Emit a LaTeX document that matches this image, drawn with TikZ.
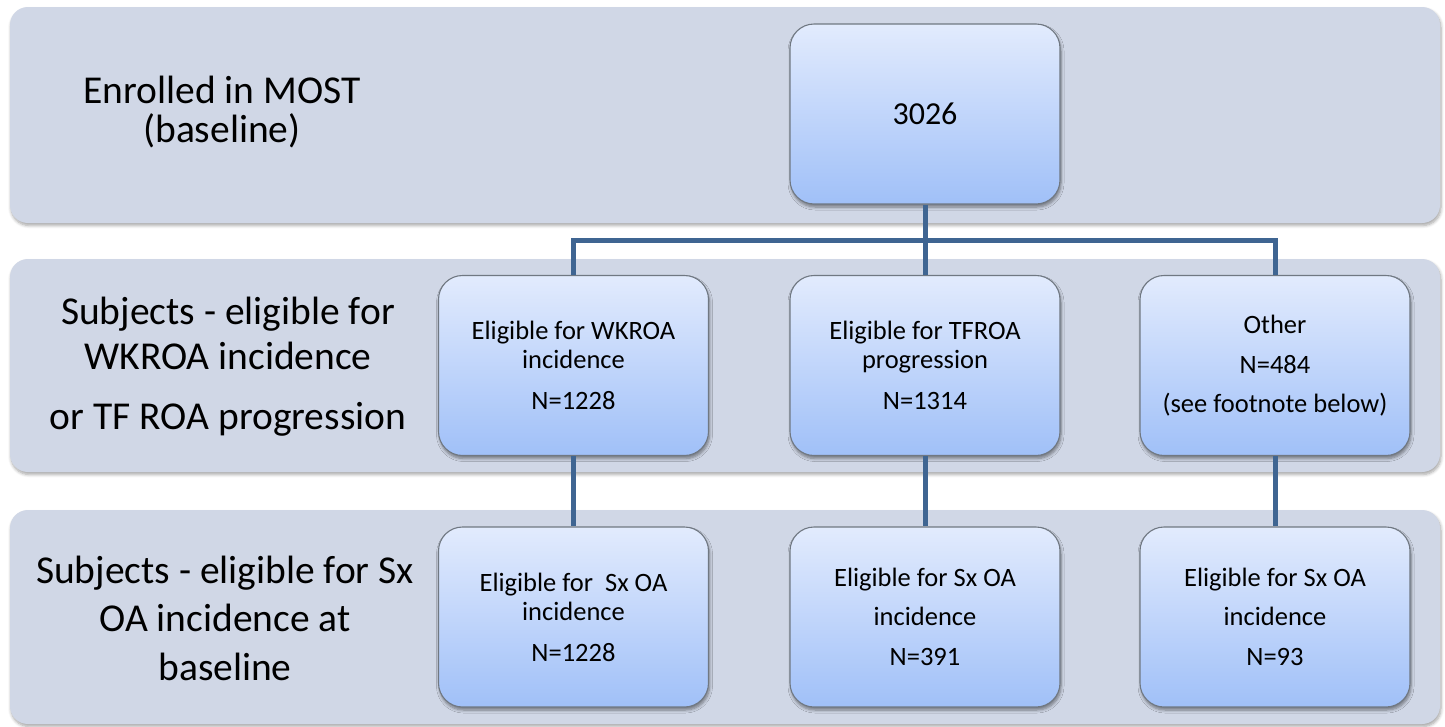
\documentclass[tikz,border=0pt]{standalone}
\usepackage{fontspec}
\setmainfont{Carlito}
\usetikzlibrary{shadows.blur}

\definecolor{bandfill}{RGB}{208,215,230}
\definecolor{boxtop}{RGB}{226,235,253}
\definecolor{boxbot}{RGB}{160,192,248}
\definecolor{boxedge}{RGB}{112,120,130}
\definecolor{linkblue}{RGB}{63,101,146}

\newcommand\fbig{\fontsize{39.5}{39}\selectfont}
\newcommand\fsmall{\fontsize{26.5}{29}\selectfont}
\newcommand\fnum{\fontsize{32}{36}\selectfont}

\tikzset{
  band/.style={fill=bandfill, rounded corners=18pt, minimum width=1430pt,
    minimum height=#1, inner sep=0pt,
    blur shadow={shadow xshift=1pt, shadow yshift=-2.5pt, shadow blur radius=3pt,
      shadow blur steps=6, shadow opacity=35}},
  bandtext/.style={align=center, inner sep=0pt, font=\fbig},
  stagebox/.style={draw=boxedge, line width=1.1pt, rounded corners=24pt,
    top color=boxtop, bottom color=boxbot, minimum width=270pt,
    minimum height=180pt, inner sep=0pt, align=center, font=\fsmall,
    blur shadow={shadow xshift=1pt, shadow yshift=-3pt, shadow blur radius=3pt,
      shadow blur steps=6, shadow opacity=45}},
  link/.style={draw=linkblue, line width=5pt, line join=miter}
}

\begin{document}
\begin{tikzpicture}[x=1pt, y=-1pt]
  \useasboundingbox (0,0) rectangle (1445,726);

  % three horizontal bands
  \node[band=216pt] (band1) at (725,115) {};
  \node[band=213pt] (band2) at (725,365.5) {};
  \node[band=214pt] (band3) at (725,617) {};

  % band captions
  \node[bandtext] (cap1) at (222,112) {Enrolled in MOST\\(baseline)};
  \node[bandtext] (cap2) at (228,367) {Subjects - eligible for\\[6pt]WKROA incidence\\[21pt]or TF ROA progression};
  \node[bandtext] (cap3) at (225,618) {Subjects - eligible for Sx\\[9.5pt]OA incidence at\\[9.5pt]baseline};

  \coordinate (bus) at (0,240);
  \path (925,114) coordinate (ptop)
        (573.5,365.5) coordinate (pwk)
        (925,365.5) coordinate (ptf)
        (1275,365.5) coordinate (pot)
        (573.5,617) coordinate (pwk3)
        (925,617) coordinate (ptf3)
        (1275,617) coordinate (pot3);

  % flow boxes
  \node[stagebox, font=\fnum] (top) at (ptop) {3026};

  \node[stagebox] (wk) at (pwk) {Eligible for WKROA\\incidence\\[12pt]N=1228};
  \node[stagebox] (tf) at (ptf) {Eligible for TFROA\\progression\\[12pt]N=1314};
  \node[stagebox] (ot) at (pot) {Other\\[11pt]N=484\\[10pt](see footnote below)};

  \node[stagebox] (wk3) at (pwk3) {Eligible for\ \ Sx OA\\incidence\\[12pt]N=1228};
  \node[stagebox] (tf3) at (ptf3) {Eligible for Sx OA\\[10pt]incidence\\[11pt]N=391};
  \node[stagebox] (ot3) at (pot3) {Eligible for Sx OA\\[10pt]incidence\\[11pt]N=93};

  % connectors
  \draw[link] (top.south) -- (top.south |- bus);
  \draw[link] (wk.north) -- (wk.north |- bus) -- (ot.north |- bus) -- (ot.north);
  \draw[link] (tf.north |- bus) -- (tf.north);
  \draw[link] (wk.south) -- (wk3.north);
  \draw[link] (tf.south) -- (tf3.north);
  \draw[link] (ot.south) -- (ot3.north);
\end{tikzpicture}
\end{document}
